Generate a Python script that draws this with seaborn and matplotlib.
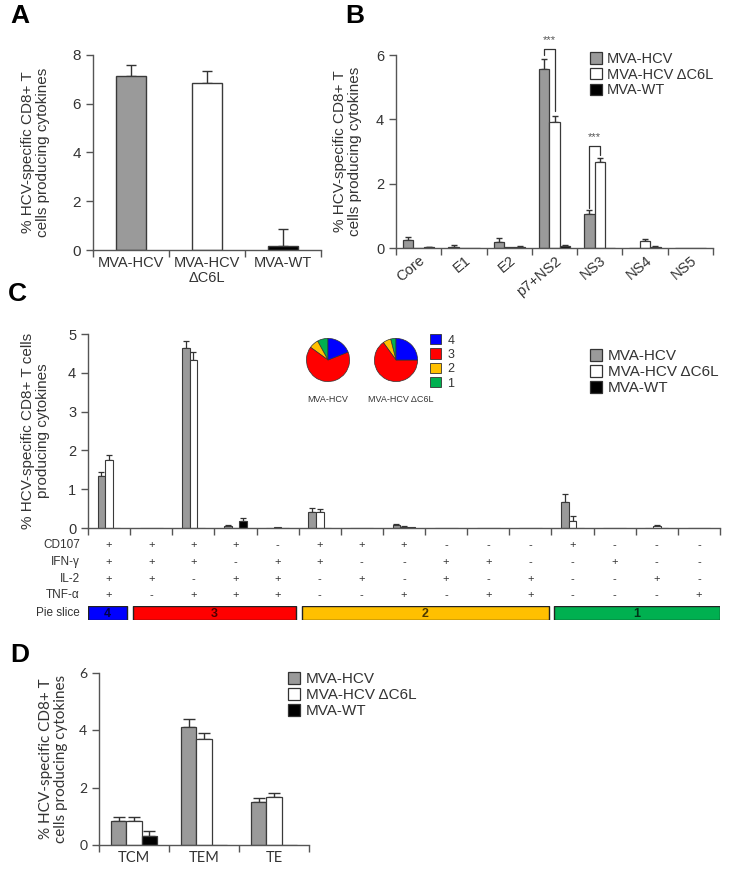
import numpy as np
import pandas as pd
import matplotlib
matplotlib.use("Agg")
import matplotlib.pyplot as plt
import matplotlib.transforms as mtransforms
from matplotlib.patches import Patch
import seaborn as sns

# -------------------------
# DATA
# -------------------------
groups = ["MVA-HCV", "MVA-HCV ΔC6L", "MVA-WT"]

# panel A
a_labels = ["MVA-HCV", "MVA-HCV\nΔC6L", "MVA-WT"]
a_vals = [7.15, 6.85, 0.18]
a_err = [0.42, 0.50, 0.70]

# panel B
b_cats = ["Core", "E1", "E2", "p7+NS2", "NS3", "NS4", "NS5"]
b_hcv = [0.24, 0.04, 0.18, 5.58, 1.05, 0.0, 0.01]
b_hcv_err = [0.09, 0.04, 0.14, 0.29, 0.12, 0.0, 0.0]
b_dc6l = [0.0, 0.01, 0.03, 3.92, 2.66, 0.21, 0.01]
b_dc6l_err = [0.0, 0.0, 0.0, 0.18, 0.15, 0.08, 0.0]
b_wt = [0.03, 0.0, 0.04, 0.07, 0.0, 0.04, 0.01]
b_wt_err = [0.01, 0.0, 0.01, 0.01, 0.0, 0.01, 0.0]

# panel C (15 cytokine combinations)
c_hcv = [1.35, 0, 4.64, 0.05, 0.01, 0.40, 0, 0.08, 0, 0, 0, 0.66, 0, 0.0, 0]
c_hcv_err = [0.09, 0, 0.18, 0.04, 0, 0.11, 0, 0.03, 0, 0, 0, 0.21, 0, 0, 0]
c_dc6l = [1.75, 0, 4.34, 0.0, 0.02, 0.41, 0, 0.03, 0, 0, 0, 0.19, 0, 0.06, 0]
c_dc6l_err = [0.13, 0, 0.19, 0, 0, 0.08, 0, 0.01, 0, 0, 0, 0.13, 0, 0.01, 0]
c_wt = [0, 0, 0, 0.19, 0, 0, 0, 0.02, 0, 0, 0, 0, 0, 0, 0]
c_wt_err = [0, 0, 0, 0.08, 0, 0, 0, 0, 0, 0, 0, 0, 0, 0, 0]

markers = ["CD107", "IFN-γ", "IL-2", "TNF-α"]
cd107 = "++++-+++---+---"
ifng = "+++-++--++--+--"
il2 = "++-++-+-+-+--+-"
tnfa = "+-+++--+-++---+"

# pie: slices 1,2,3,4 (% of response)
slice_names = ["1", "2", "3", "4"]
pie_hcv = [8, 7, 66, 19]
pie_dc6l = [4, 6, 65, 25]

# panel D
d_cats = ["TCM", "TEM", "TE"]
d_hcv = [0.82, 4.11, 1.50]
d_hcv_err = [0.16, 0.27, 0.13]
d_dc6l = [0.82, 3.69, 1.67]
d_dc6l_err = [0.15, 0.23, 0.14]
d_wt = [0.31, 0.0, 0.0]
d_wt_err = [0.17, 0.0, 0.0]

# -------------------------
# STYLE
# -------------------------
sns.set_style("ticks")
plt.rcParams["font.family"] = ["Liberation Sans", "DejaVu Sans"]
plt.rcParams["text.color"] = "#333333"
plt.rcParams["axes.labelcolor"] = "#333333"
plt.rcParams["xtick.color"] = "#555555"
plt.rcParams["ytick.color"] = "#555555"
plt.rcParams["xtick.labelcolor"] = "#333333"
plt.rcParams["ytick.labelcolor"] = "#333333"

colors = ["#9a9a9a", "#ffffff", "#000000"]
edge = "#3a3a3a"
slice_colors = {"1": "#00b050", "2": "#ffc000", "3": "#ff0000", "4": "#0000ff"}

W, H = 730, 872
fig = plt.figure(figsize=(7.3, 8.72), dpi=100)


def px_axes(left, top, right, bottom):
    return fig.add_axes([left / W, 1 - bottom / H, (right - left) / W, (bottom - top) / H])


def style_axes(ax, n, ymax, ystep, tick_fs=10):
    sns.despine(ax=ax)
    for s in ["left", "bottom"]:
        ax.spines[s].set_color("#555555")
        ax.spines[s].set_linewidth(1.0)
    ax.set_xlim(-0.5, n - 0.5)
    ax.set_ylim(0, ymax)
    ax.set_yticks(np.arange(0, ymax + 0.01, ystep))
    ax.set_xticks(np.arange(-0.5, n, 1), minor=True)
    ax.tick_params(axis="x", which="major", length=0, labelsize=tick_fs, pad=4)
    ax.tick_params(axis="x", which="minor", length=5, width=1.0)
    ax.tick_params(axis="y", length=5, width=1.0, labelsize=tick_fs)
    ax.set_xlabel("")


def add_errors(ax, errs, capsize, lw=1.0):
    for cont, err in zip(ax.containers, errs):
        bars = sorted(cont.patches, key=lambda b: b.get_x())
        for bar, e in zip(bars, err):
            if e <= 0:
                continue
            x = bar.get_x() + bar.get_width() / 2
            y = bar.get_height()
            ax.errorbar([x], [y], yerr=[[0], [e]], fmt="none", ecolor="#333333",
                        elinewidth=lw, capsize=capsize, capthick=lw, zorder=1)


def grouped_bars(ax, cats, series, width, lw=0.9):
    df = pd.concat([pd.DataFrame({"cat": cats, "grp": g, "val": v})
                    for g, v in zip(groups, series)], ignore_index=True)
    sns.barplot(data=df, x="cat", y="val", hue="grp", order=cats, hue_order=groups,
                palette=colors, width=width, edgecolor=edge, linewidth=lw,
                errorbar=None, legend=False, ax=ax, zorder=2)


legend_handles = [Patch(facecolor=c, edgecolor="#333333", linewidth=0.9, label=g)
                  for c, g in zip(colors, groups)]

# -------------------------
# PANEL A
# -------------------------
axA = px_axes(93, 55, 321, 250)
dfA = pd.DataFrame({"grp": groups, "val": a_vals})
sns.barplot(data=dfA, x="grp", y="val", hue="grp", order=groups, hue_order=groups,
            palette=colors, width=0.4, edgecolor=edge, linewidth=1.0,
            errorbar=None, legend=False, ax=axA, zorder=2)
add_errors(axA, [[e] for e in a_err], capsize=3.5)
style_axes(axA, 3, 8, 2, tick_fs=11)
axA.set_xticks(range(3))
axA.set_xticklabels(a_labels, fontsize=10.5, linespacing=1.1)
axA.set_ylabel("% HCV-specific CD8+ T\ncells producing cytokines", fontsize=11,
               linespacing=1.1, labelpad=16)

# -------------------------
# PANEL B
# -------------------------
axB = px_axes(396, 55, 713, 248)
grouped_bars(axB, b_cats, [b_hcv, b_dc6l, b_wt], width=0.69)
add_errors(axB, [b_hcv_err, b_dc6l_err, b_wt_err], capsize=2.5)
style_axes(axB, 7, 6, 2, tick_fs=10.5)
axB.set_xticks(range(7))
axB.set_xticklabels(b_cats, rotation=40, ha="right", rotation_mode="anchor", fontsize=10.5)
axB.set_ylabel("% HCV-specific CD8+ T\ncells producing cytokines", fontsize=11,
               linespacing=1.1, labelpad=10)
axB.legend(handles=legend_handles, loc="upper left", bbox_to_anchor=(590 / W, 1 - 52 / H),
           bbox_transform=fig.transFigure, frameon=False, fontsize=10.5,
           handlelength=0.8, handleheight=0.8, handletextpad=0.35, labelspacing=0.12,
           borderpad=0, borderaxespad=0)

# significance brackets
for k, top, ldrop, rdrop in [(3, 6.18, 6.0, 4.25), (4, 3.17, 1.25, 2.88)]:
    xl = sorted(axB.containers[0].patches, key=lambda b: b.get_x())[k]
    xr = sorted(axB.containers[1].patches, key=lambda b: b.get_x())[k]
    x0 = xl.get_x() + xl.get_width() / 2
    x1 = xr.get_x() + xr.get_width() / 2
    axB.plot([x0, x0, x1, x1], [ldrop, top, top, rdrop], color="#333333", lw=0.9,
             clip_on=False, zorder=3)
    axB.text((x0 + x1) / 2, top + 0.12, "***", ha="center", va="bottom", fontsize=8,
             color="#555555")

# -------------------------
# PANEL C
# -------------------------
axC = px_axes(88, 334, 720, 528)
grouped_bars(axC, list(range(15)), [c_hcv, c_dc6l, c_wt], width=0.54, lw=0.8)
add_errors(axC, [c_hcv_err, c_dc6l_err, c_wt_err], capsize=2.0, lw=0.9)
style_axes(axC, 15, 5, 1, tick_fs=10.5)
axC.set_xticks([])
axC.set_xticks(np.arange(-0.5, 15, 1), minor=True)
axC.set_ylabel("% HCV-specific CD8+ T cells\nproducing cytokines", fontsize=11,
               linespacing=1.1, labelpad=13)
axC.legend(handles=legend_handles, loc="upper left", bbox_to_anchor=(590 / W, 1 - 349 / H),
           bbox_transform=fig.transFigure, frameon=False, fontsize=11,
           handlelength=0.8, handleheight=0.8, handletextpad=0.35, labelspacing=0.12,
           borderpad=0, borderaxespad=0)

# combination table under panel C
trans = mtransforms.blended_transform_factory(axC.transData, fig.transFigure)
row_y = [545, 562, 579, 595]
for name, row, y in zip(markers, [cd107, ifng, il2, tnfa], row_y):
    fig.text(80 / W, 1 - y / H, name, ha="right", va="center", fontsize=8.5)
    for j, s in enumerate(row):
        axC.text(j, 1 - y / H, s, transform=trans, ha="center", va="center",
                 fontsize=8, color="#333333")
fig.text(80 / W, 1 - 613 / H, "Pie slice", ha="right", va="center", fontsize=8.5)

# pie slice strip = number of '+' per column
counts = [sum(r[j] == "+" for r in [cd107, ifng, il2, tnfa]) for j in range(15)]
axS = px_axes(88, 606, 720, 620)
axS.set_xlim(-0.5, 14.5)
axS.set_ylim(0, 1)
axS.axis("off")
gap = 0.07
start = 0
for j in range(1, 16):
    if j == 15 or counts[j] != counts[start]:
        left = start - 0.5 + (gap if start > 0 else 0)
        right = j - 0.5 - (gap if j < 15 else 0)
        axS.barh(0.5, right - left, left=left, height=1.0,
                 color=slice_colors[str(counts[start])], edgecolor="#222222", linewidth=1.0)
        axS.text((left + right) / 2, 0.45, str(counts[start]), ha="center", va="center",
                 fontsize=9, fontweight="bold", color="black", alpha=0.7)
        start = j

# pies
for vals, cx, label, lx in [(pie_hcv, 328, "MVA-HCV", 328), (pie_dc6l, 396, "MVA-HCV ΔC6L", 401)]:
    axP = px_axes(cx - 27, 333, cx + 27, 387)
    axP.pie(vals, colors=[slice_colors[s] for s in slice_names], startangle=90,
            counterclock=True, wedgeprops=dict(edgecolor="#333333", linewidth=0.5))
    axP.set_aspect("equal")
    fig.text(lx / W, 1 - 399 / H, label, ha="center", va="center", fontsize=6.5)

pie_handles = [Patch(facecolor=slice_colors[s], edgecolor="#333333", linewidth=0.6, label=s)
               for s in ["4", "3", "2", "1"]]
fig.legend(handles=pie_handles, loc="upper left", bbox_to_anchor=(430 / W, 1 - 334 / H),
           frameon=False, fontsize=9, handlelength=0.9, handleheight=0.9,
           handletextpad=0.5, labelspacing=0.15, borderpad=0, borderaxespad=0)

# -------------------------
# PANEL D
# -------------------------
axD = px_axes(99, 673, 309, 845)
grouped_bars(axD, d_cats, [d_hcv, d_dc6l, d_wt], width=0.65)
add_errors(axD, [d_hcv_err, d_dc6l_err, d_wt_err], capsize=4)
style_axes(axD, 3, 6, 2, tick_fs=10)
axD.set_xticks(range(3))
axD.set_xticklabels(d_cats, fontsize=10.5, family="Lato")
for t in axD.get_yticklabels():
    t.set_family("Lato")
axD.set_ylabel("% HCV-specific CD8+ T\ncells producing cytokines", fontsize=11,
               family="Lato", linespacing=1.05, labelpad=8)
axD.legend(handles=legend_handles, loc="upper left", bbox_to_anchor=(288 / W, 1 - 672 / H),
           bbox_transform=fig.transFigure, frameon=False, fontsize=11,
           handlelength=0.8, handleheight=0.8, handletextpad=0.35, labelspacing=0.12,
           borderpad=0, borderaxespad=0)

# panel letters
for letter, x, y in [("A", 10, 4), ("B", 345, 4), ("C", 8, 282), ("D", 10, 643)]:
    fig.text(x / W, 1 - y / H, letter, fontsize=19, fontweight="bold", va="top",
             ha="left", color="black")

fig.savefig("out.png", dpi=100)
